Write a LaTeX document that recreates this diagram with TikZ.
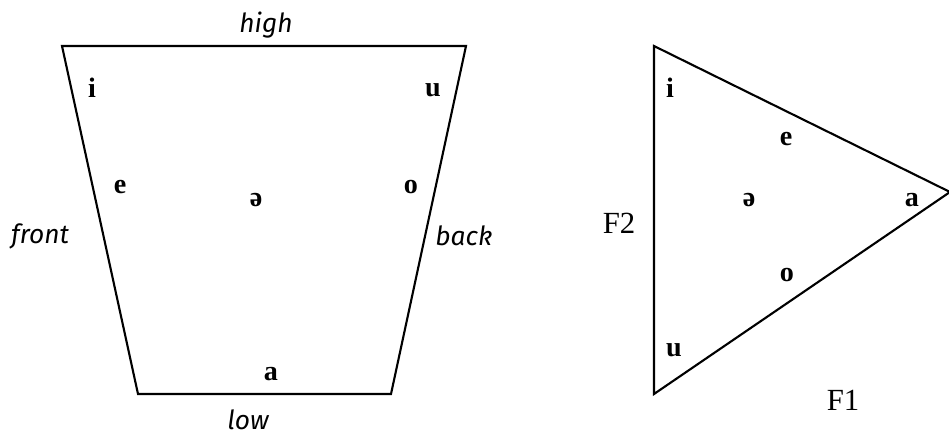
\documentclass[tikz,border=0pt]{standalone}
\usepackage{fontspec}
\setmainfont{Liberation Serif}
\newfontfamily\axisfont{Fira Sans}
\usetikzlibrary{positioning}
\tikzset{
  vowel/.style={font=\bfseries\fontsize{16}{18}\selectfont,inner sep=0pt},
  axis/.style={font=\axisfont\itshape\fontsize{15}{17}\selectfont,inner sep=0pt},
  formant/.style={font=\fontsize{17.5}{19}\selectfont,inner sep=0pt},
  edge/.style={line width=1.2pt,line join=miter},
}
\begin{document}
\begin{tikzpicture}[x=0.02cm,y=-0.02cm]
        \useasboundingbox (0,0) rectangle (949,436);
        % vowel trapezoid
        \coordinate (tl) at (62,46);
        \coordinate (tr) at (466,46);
        \coordinate (br) at (391,394);
        \coordinate (bl) at (138,394);
        \draw[edge] (tl)--(tr)--(br)--(bl)--cycle;
        \node[axis] (high) at (266,25) {high};
        \node[axis] (low) at (248,420) {low};
        \node[axis] (front) at (40,236) {front};
        \node[axis] (back) at (464,236) {back};
        \node[vowel] (ti) at (92,88) {i};
        \node[vowel] (tu) at (433,90) {u};
        \node[vowel] (te) at (120,187) {e};
        \node[vowel] (to) at (411,187) {o};
        \node[vowel] (tschwa) at (256,200) {ə};
        \node[vowel] (ta) at (271,374) {a};
        % formant triangle
        \coordinate (fi) at (654,46);
        \coordinate (fa) at (950,192);
        \coordinate (fu) at (654,394);
        \draw[edge] (fi)--(fa)--(fu)--cycle;
        \node[formant] (F2) at (619,223) {F2};
        \node[formant] (F1) at (843,400) {F1};
        \node[vowel] (ri) at (670,88) {i};
        \node[vowel] (re) at (786,139) {e};
        \node[vowel] (rschwa) at (749,200) {ə};
        \node[vowel] (ra) at (912,200) {a};
        \node[vowel] (ro) at (787,275) {o};
        \node[vowel] (ru) at (674,350) {u};
      \end{tikzpicture}
\end{document}
